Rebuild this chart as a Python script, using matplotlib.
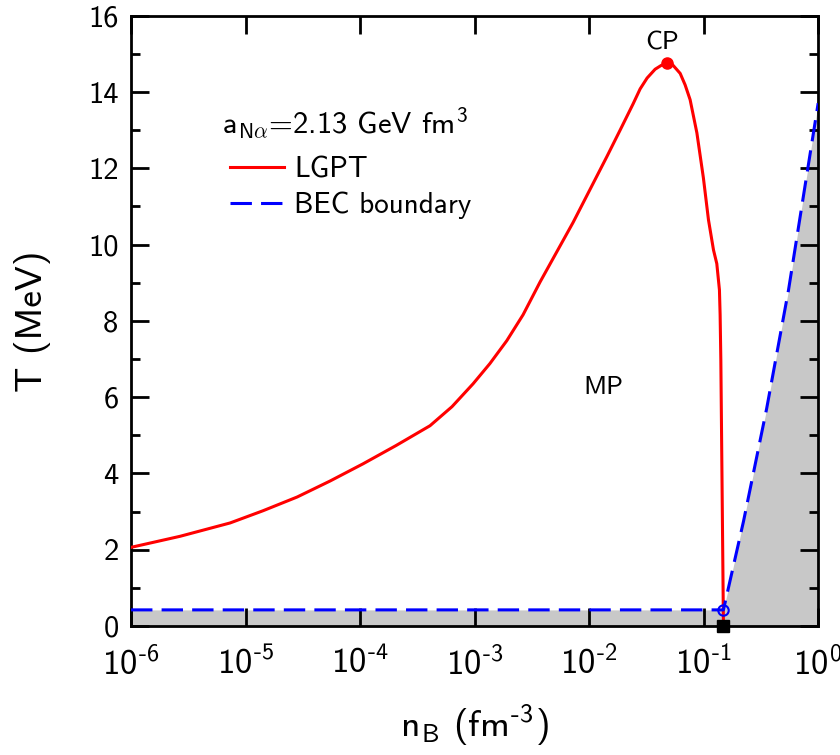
import matplotlib
matplotlib.use("Agg")
import matplotlib.pyplot as plt
from matplotlib.ticker import FixedLocator, MultipleLocator, NullLocator

plt.rcParams['font.family'] = ['cmss10', 'DejaVu Sans']
plt.rcParams['mathtext.fontset'] = 'custom'
plt.rcParams['mathtext.rm'] = 'cmss10'
plt.rcParams['mathtext.sf'] = 'cmss10'
plt.rcParams['mathtext.it'] = 'cmmi10'
plt.rcParams['mathtext.bf'] = 'cmss10'
plt.rcParams['axes.unicode_minus'] = False

# LGPT (liquid-gas phase transition) boundary
lgpt_n = [1.00e-6, 2.68e-6, 7.33e-6, 1.42e-5, 2.82e-5, 5.47e-5, 1.06e-4, 2.06e-4,
          4.08e-4, 6.35e-4, 9.70e-4, 1.36e-3, 1.91e-3, 2.65e-3, 3.73e-3, 7.24e-3,
          1.43e-2, 1.87e-2, 2.42e-2, 2.79e-2, 3.21e-2, 3.77e-2, 4.26e-2, 4.78e-2,
          5.31e-2, 6.24e-2, 6.89e-2, 7.62e-2, 8.73e-2, 9.95e-2, 0.1102, 0.1219,
          0.1303, 0.1374, 0.1393, 0.1413, 0.1442, 0.1472, 0.1489]
lgpt_T = [2.06, 2.35, 2.70, 3.02, 3.38, 3.80, 4.25, 4.73,
          5.25, 5.75, 6.35, 6.88, 7.48, 8.16, 9.02, 10.58,
          12.31, 13.01, 13.69, 14.085, 14.37, 14.60, 14.70, 14.755,
          14.73, 14.49, 14.19, 13.80, 12.93, 11.75, 10.65, 9.86,
          9.50, 8.81, 8.16, 6.98, 4.28, 1.55, 0.0]

# BEC boundary
bec_n = [1.0e-6, 0.1489, 0.2228, 0.355, 0.551, 1.0]
bec_T = [0.42, 0.42, 2.74, 5.70, 8.81, 13.71]

# special points
cp_n, cp_T = 4.78e-2, 14.755
sat_n, sat_T = 0.1489, 0.0
bec_start_n, bec_start_T = 0.1489, 0.42

xtick_vals = [1e-6, 1e-5, 1e-4, 1e-3, 1e-2, 1e-1, 1e0]
xtick_labels = [r'$10^{\text{-6}}$', r'$10^{\text{-5}}$', r'$10^{\text{-4}}$',
                r'$10^{\text{-3}}$', r'$10^{\text{-2}}$', r'$10^{\text{-1}}$',
                r'$10^{\text{0}}$']
ytick_vals = [0, 2, 4, 6, 8, 10, 12, 14, 16]

fig = plt.figure(figsize=(8.4, 7.55), dpi=100)
ax = fig.add_axes([0.156, 0.171, 0.818, 0.808])

ax.set_xscale('log')
ax.set_xlim(1e-6, 1.0)
ax.set_ylim(0, 16)

ax.fill_between(bec_n, 0, bec_T, color='#c8c8c8', linewidth=0, zorder=0)
ax.plot(lgpt_n, lgpt_T, color='#ff0000', lw=2.2, zorder=3)
ax.plot(bec_n, bec_T, color='#0000ff', lw=2.2, dashes=(7, 3), zorder=4)

ax.plot([cp_n], [cp_T], 'o', color='#ff0000', ms=8, zorder=5, clip_on=False)
ax.plot([bec_start_n], [bec_start_T], 'o', mfc='none', mec='#0000ff', mew=1.5,
        ms=7.5, zorder=6)
ax.plot([sat_n], [sat_T], 's', color='black', ms=8, zorder=7, clip_on=False)

ax.xaxis.set_major_locator(FixedLocator(xtick_vals))
ax.xaxis.set_minor_locator(NullLocator())
ax.set_xticklabels(xtick_labels)
ax.yaxis.set_major_locator(FixedLocator(ytick_vals))
ax.yaxis.set_minor_locator(MultipleLocator(1))

ax.tick_params(which='both', direction='in', top=True, right=True, width=2,
               color='black')
ax.tick_params(which='major', length=13)
ax.tick_params(which='minor', length=6.5)
ax.tick_params(axis='y', labelsize=22, pad=9)
ax.tick_params(axis='x', labelsize=25, pad=15)
for s in ax.spines.values():
    s.set_linewidth(2)

ax.set_xlabel(r'n$_{\mathrm{B}}$ (fm$^{\text{-3}}$)', fontsize=27, labelpad=15)
ax.set_ylabel('T (MeV)', fontsize=27, labelpad=27)

ax.text(661.7 / 840, 1 - 42.7 / 755, 'CP', transform=fig.transFigure,
        ha='center', va='center', fontsize=19)
ax.text(603.3 / 840, 1 - 388 / 755, 'MP', transform=fig.transFigure,
        ha='center', va='center', fontsize=19)

# legend (manual)
ax.text(222 / 840, 1 - 124 / 755, r'a$_{\mathrm{N}\alpha}$=2.13 GeV fm$^{\mathrm{3}}$',
        transform=fig.transFigure, ha='left', va='center', fontsize=22)
leg = ax.legend(
    [plt.Line2D([], [], color='#ff0000', lw=2.2),
     plt.Line2D([], [], color='#0000ff', lw=2.2, dashes=(7, 3))],
    ['LGPT', 'BEC boundary'], loc='upper left',
    bbox_to_anchor=(230 / 840, 1 - 156 / 755), bbox_transform=fig.transFigure,
    frameon=False, fontsize=21, handlelength=1.85, handletextpad=0.35,
    labelspacing=0.3, borderpad=0, borderaxespad=0)

fig.savefig('out.png', dpi=100)
